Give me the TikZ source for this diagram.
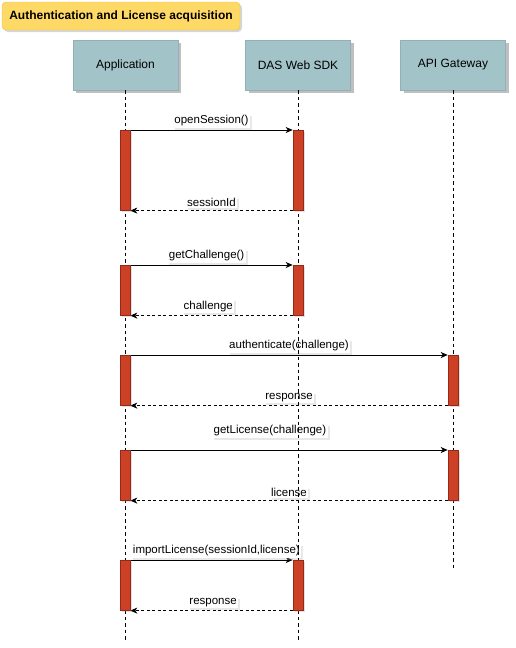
\documentclass[tikz,border=0pt]{standalone}
\usepackage{fontspec}
\setmainfont{Liberation Sans}
\usetikzlibrary{arrows.meta,shadows,positioning}
\definecolor{titlefill}{RGB}{255,217,102}
\definecolor{titleline}{RGB}{230,190,90}
\definecolor{actorfill}{RGB}{162,196,201}
\definecolor{barfill}{RGB}{204,65,37}
\definecolor{barline}{RGB}{150,40,25}
\pgfdeclarelayer{front}
\pgfsetlayers{main,front}
\tikzset{
  >={Stealth[length=7pt,width=6pt,inset=2pt]},
  titlebox/.style={rectangle, rounded corners=4pt, fill=titlefill, draw=titleline,
                   minimum width=238pt, minimum height=28pt, font=\fontsize{12}{14}\selectfont\bfseries,
                   drop shadow={shadow xshift=2pt, shadow yshift=-2pt, fill=black!40, opacity=.4}},
  actor/.style={rectangle, fill=actorfill, draw=actorfill!90!black, minimum width=105pt,
                minimum height=50pt, font=\fontsize{12}{14}\selectfont,
                drop shadow={shadow xshift=3pt, shadow yshift=-3pt, fill=black!50, opacity=.5}},
  lifeline/.style={draw, line width=0.8pt, dash pattern=on 3.5pt off 3pt},
  bar/.style={rectangle, fill=barfill, draw=barline, line width=0.6pt, minimum width=10pt,
              inner sep=0pt, anchor=north,
              drop shadow={shadow xshift=2pt, shadow yshift=-2pt, fill=black!40, opacity=.3}},
  call/.style={draw, ->, line width=0.9pt},
  reply/.style={draw, ->, line width=0.9pt, dash pattern=on 3pt off 2.5pt},
  msg/.style={fill=white, inner sep=1.5pt, font=\fontsize{11.5}{13}\selectfont,
              drop shadow={shadow xshift=2pt, shadow yshift=-2pt, fill=black!30, opacity=.3}}
}

\begin{document}
\begin{tikzpicture}[x=1pt, y=-1pt]
    \useasboundingbox (0,0) rectangle (515,648);

      % Title and participants.
      \node[titlebox] (title) at (121,16) {Authentication and License acquisition};
      \node[actor] (app) at (125.5,65) {Application};
      \node[actor] (sdk) at (298,65) {DAS Web SDK};
      \node[actor] (gw) at (453,65) {API Gateway};

      % Lifeline ends.
      \coordinate (appEnd) at (125.5,641);
      \coordinate (sdkEnd) at (298,641);
      \coordinate (gwEnd) at (453,569);

      \begin{pgfonlayer}{front}
        % Draw lifelines.
        \draw[lifeline] (app.south) -- (appEnd);
        \draw[lifeline] (sdk.south) -- (sdkEnd);
        \draw[lifeline] (gw.south) -- (gwEnd);

        % Now draw activation bars.
        \node[bar, minimum height=80pt] (app1) at (125,130) {};
        \node[bar, minimum height=50pt] (app2) at (125,265) {};
        \node[bar, minimum height=50pt] (app3) at (125,355) {};
        \node[bar, minimum height=50pt] (app4) at (125,450) {};
        \node[bar, minimum height=50pt] (app5) at (125,560) {};
        \node[bar, minimum height=80pt] (sdk1) at (298,130) {};
        \node[bar, minimum height=50pt] (sdk2) at (298,265) {};
        \node[bar, minimum height=50pt] (sdk3) at (298,560) {};
        \node[bar, minimum height=50pt] (gw1) at (453,355) {};
        \node[bar, minimum height=50pt] (gw2) at (453,450) {};
      \end{pgfonlayer}

      % Draw calls and replies.
      \draw[call] (app1.north east) -- node[msg, above=2pt] (m1) {openSession()} (sdk1.north west);
      \draw[reply] (sdk1.south west) -- node[msg, above=2pt] (m2) {sessionId} (app1.south east);
      \draw[call] (app2.north east) -- node[msg, above=2pt, pos=0.47] (m3) {getChallenge()} (sdk2.north west);
      \draw[reply] (sdk2.south west) -- node[msg, above=2pt, pos=0.52] (m4) {challenge} (app2.south east);
      \draw[call] (app3.north east) -- node[msg, above=2pt] (m5) {authenticate(challenge)} (gw1.north west);
      \draw[reply] (gw1.south west) -- node[msg, above=2pt] (m6) {response} (app3.south east);
      \draw[call] (app4.north east) -- node[msg, above=12pt, pos=0.44] (m7) {getLicense(challenge)} (gw2.north west);
      \draw[reply] (gw2.south west) -- node[msg, above=2pt] (m8) {license} (app4.south east);
      \draw[call] (app5.north east) -- node[msg, above=2pt, pos=0.53] (m9) {importLicense(sessionId,license)} (sdk3.north west);
      \draw[reply] (sdk3.south west) -- node[msg, above=2pt, pos=0.49] (m10) {response} (app5.south east);
\end{tikzpicture}
\end{document}
